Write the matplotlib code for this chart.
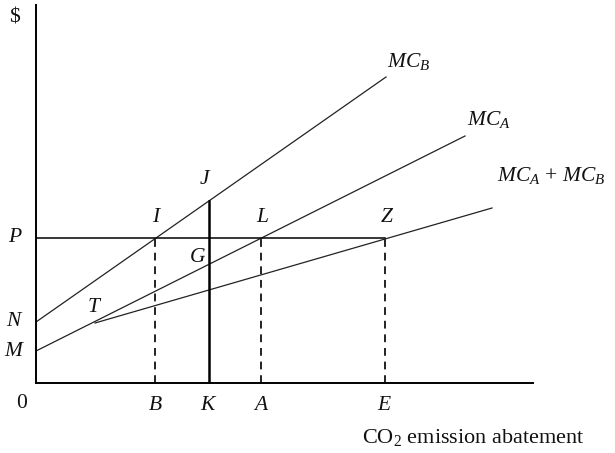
import matplotlib
matplotlib.use("Agg")
import matplotlib.pyplot as plt

plt.rcParams['font.family'] = ['Liberation Serif', 'DejaVu Serif']
plt.rcParams['mathtext.fontset'] = 'custom'
plt.rcParams['mathtext.rm'] = 'Liberation Serif'
plt.rcParams['mathtext.it'] = 'Liberation Serif:italic'
plt.rcParams['mathtext.bf'] = 'Liberation Serif:bold'

# Data (abatement units, $ units)
mcb_x = [0.0, 35.0]
mcb_y = [6.1, 30.6]
mca_x = [0.0, 42.9]
mca_y = [3.2, 24.7]
sum_x = [5.9, 45.6]
sum_y = [6.0, 17.5]
price_P = 14.5
q_B, q_K, q_A, q_E = 11.9, 17.3, 22.5, 34.9
price_J = 18.2
x_ticks = [q_B, q_K, q_A, q_E]
x_tick_labels = ['B', 'K', 'A', 'E']
y_marks = [6.1, 3.2, price_P]
y_mark_labels = ['N', 'M', 'P']

fig = plt.figure(figsize=(6.15, 4.53), dpi=100)
ax = fig.add_axes([36/615, 70/453, 497/615, 378/453])
ax.set_xlim(0, 49.7)
ax.set_ylim(0, 37.8)
for s in ['top', 'right']:
    ax.spines[s].set_visible(False)
for s in ['left', 'bottom']:
    ax.spines[s].set_linewidth(1.4)
    ax.spines[s].set_color('black')
ax.set_xticks([])
ax.set_yticks([])

lc = '#222222'
ax.plot(mcb_x, mcb_y, color=lc, lw=0.9)
ax.plot(mca_x, mca_y, color=lc, lw=0.9)
ax.plot(sum_x, sum_y, color=lc, lw=0.9)
ax.plot([0, q_E], [price_P, price_P], color='black', lw=1.1)
for q in [q_B, q_A, q_E]:
    ax.plot([q, q], [0, price_P], color=lc, lw=1.4, ls=(0, (4, 3)))
ax.plot([q_K, q_K], [0, price_J], color='black', lw=1.8)

fs = 15.5
kw = dict(fontsize=fs, color='#111111', clip_on=False)
ax.text(-2.2, 36.5, '$', ha='center', va='center', **kw)
for v, l in zip(y_marks, y_mark_labels):
    ax.text(-2.1, v, '$' + l + '$', ha='center', va='center', **kw)
ax.text(-1.4, -2.0, '0', ha='center', va='center', **kw)
for v, l in zip(x_ticks, x_tick_labels):
    ax.text(v, -2.2, '$' + l + '$', ha='center', va='center', **kw)

pts = {'I': (12.1, 16.5), 'J': (16.9, 20.3), 'L': (22.7, 16.5),
       'G': (16.2, 12.6), 'Z': (35.1, 16.5), 'T': (5.9, 7.5)}
for k, (x, y) in pts.items():
    ax.text(x, y, '$' + k + '$', ha='center', va='center', **kw)

ax.text(35.1, 32.1, '$MC_B$', ha='left', va='center', **kw)
ax.text(43.1, 26.3, '$MC_A$', ha='left', va='center', **kw)
ax.text(46.1, 20.8, r'$MC_A\,+\,MC_B$', ha='left', va='center', **kw)
ax.text(43.7, -5.5, 'CO$_2$ emission abatement', ha='center', va='center',
        fontsize=16, color='#111111', clip_on=False)

fig.savefig('out.png', dpi=100)
